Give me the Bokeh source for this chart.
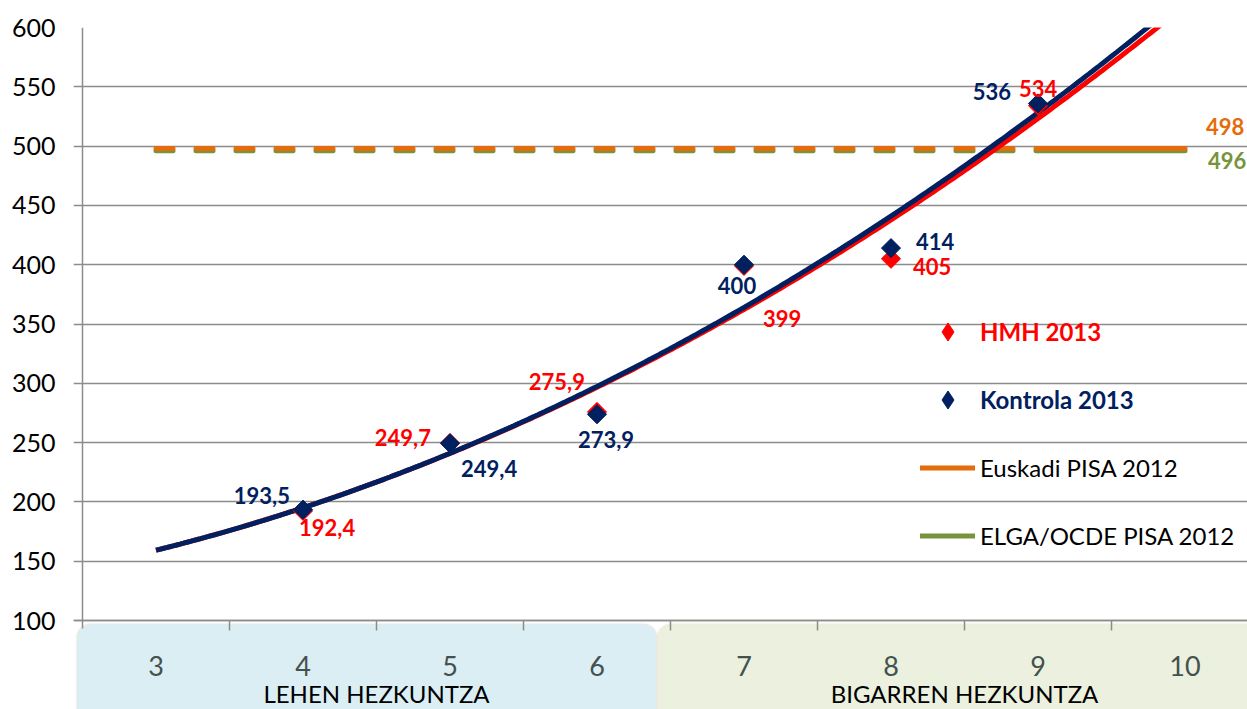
import numpy as np
from bokeh.plotting import figure
from bokeh.models import (ColumnDataSource, Range1d, FixedTicker, LinearAxis,
                          BoxAnnotation, Legend, LegendItem)
from bokeh.core.properties import value
from bokeh.embed import file_html
from bokeh.resources import INLINE

# ---------------- data ----------------
grades = [3, 4, 5, 6, 7, 8, 9, 10]
stage_names = ["LEHEN HEZKUNTZA", "BIGARREN HEZKUNTZA"]
stage_grades = [[3, 4, 5, 6], [7, 8, 9, 10]]
point_grades = [4, 5, 6, 7, 8, 9]
hmh_2013 = [192.4, 249.7, 275.9, 399, 405, 534]
kontrola_2013 = [193.5, 249.4, 273.9, 400, 414, 536]
euskadi_pisa_2012 = [498, 498, 498, 498, 498, 498, 498, 498]
elga_pisa_2012 = [496, 496, 496, 496, 496, 496, 496, 496]
y_ticks = [100, 150, 200, 250, 300, 350, 400, 450, 500, 550, 600]

# ---------------- label placement (screen px) ----------------
k_dx = [-13, 11, 9, -7, 25, -27]
k_dy = [-14, 25, 25, 21, -7, -12]
k_align = ["right", "left", "center", "center", "left", "right"]
h_dx = [-4, -19, -12, 19, 22, -19]
h_dy = [17, -5, -30, 53, 8, -17]
h_align = ["left", "right", "right", "left", "left", "left"]

NAVY = "#002060"
RED = "#FF0000"
ORANGE = "#E46C0A"
GREEN = "#77933C"
GRID = "#8C8C8C"
FONT = "Lato"
PX_PER_GRADE = 147.0


def fmt(v):
    return str(int(v)) if float(v).is_integer() else f"{v:.1f}".replace(".", ",")


x_lo = grades[0] - 0.5
p = figure(width=1247, height=709, output_backend="svg", toolbar_location=None,
           x_range=Range1d(x_lo - 9 / PX_PER_GRADE, x_lo + 1165 / PX_PER_GRADE),
           y_range=Range1d(25.0, 600),
           min_border_left=73, min_border_right=0, min_border_top=27,
           min_border_bottom=0, x_axis_location=None,
           outline_line_color=None, background_fill_color="white",
           border_fill_color="white")
p.xgrid.visible = False

# y tick labels (left panel) + grid
yt = FixedTicker(ticks=y_ticks)
p.yaxis.ticker = yt
p.ygrid.ticker = yt
p.ygrid.grid_line_color = GRID
p.ygrid.grid_line_width = 1.5
p.yaxis.axis_line_color = None
p.yaxis.major_tick_line_color = None
p.yaxis.minor_tick_line_color = None
p.yaxis.major_tick_out = 0
p.yaxis.major_tick_in = 0
p.yaxis.major_label_standoff = 18
p.yaxis.major_label_text_font = FONT
p.yaxis.major_label_text_font_size = "25px"
p.yaxis.major_label_text_color = "black"

# y axis line at the left edge of the first category
y_line_axis = LinearAxis(fixed_location=x_lo, ticker=yt,
                         bounds=(y_ticks[0] - 7, y_ticks[-1]),
                         major_label_text_font_size="0px",
                         major_label_overrides={t: "" for t in y_ticks},
                         axis_line_color=GRID, axis_line_width=1.5,
                         major_tick_line_color=None, minor_tick_line_color=None,
                         major_tick_in=0, major_tick_out=0)
p.add_layout(y_line_axis, "left")

# category bands
band_top = y_ticks[0] - 2.6
b1 = BoxAnnotation(left=stage_grades[0][0] - 0.54, right=stage_grades[0][-1] + 0.41,
                   top=band_top, bottom=0, fill_color="#DBEEF4", fill_alpha=1,
                   line_color="#FBE2D0", line_width=2, border_radius=14,
                   level="underlay")
b2 = BoxAnnotation(left=stage_grades[1][0] - 0.59, right=stage_grades[1][-1] + 1.5,
                   top=band_top, bottom=0, fill_color="#EBF1DE", fill_alpha=1,
                   line_color="#FBE2D0", line_width=2, border_radius=14,
                   level="underlay")
p.add_layout(b1)
p.add_layout(b2)

# x axis line + boundary ticks
tick_axis = LinearAxis(fixed_location=y_ticks[0],
                       ticker=FixedTicker(ticks=[g + 0.5 for g in grades[:-1]]),
                       major_label_text_font_size="0px",
                       major_label_overrides={g + 0.5: "" for g in grades[:-1]},
                       major_tick_in=0, major_tick_out=10,
                       minor_tick_line_color=None, axis_line_color=GRID,
                       axis_line_width=1.5, major_tick_line_color=GRID,
                       major_tick_line_width=1.5)
p.add_layout(tick_axis, "below")

grade_axis = LinearAxis(fixed_location=y_ticks[0], ticker=FixedTicker(ticks=grades),
                        axis_line_color=None, major_tick_line_color=None,
                        minor_tick_line_color=None, major_tick_in=0, major_tick_out=0,
                        major_label_standoff=35, major_label_text_font=FONT,
                        major_label_text_font_size="27px",
                        major_label_text_color="#44514F")
p.add_layout(grade_axis, "below")

stage_centers = [(g[0] + g[-1]) / 2 for g in stage_grades]
stage_axis = LinearAxis(fixed_location=y_ticks[0], ticker=FixedTicker(ticks=stage_centers),
                        major_label_overrides={c: n for c, n in zip(stage_centers, stage_names)},
                        axis_line_color=None, major_tick_line_color=None,
                        minor_tick_line_color=None, major_tick_in=0, major_tick_out=0,
                        major_label_standoff=58, major_label_text_font=FONT,
                        major_label_text_font_size="24px",
                        major_label_text_color="black")
p.add_layout(stage_axis, "below")

# PISA reference lines: dashed to grade 9, solid 9-10
n_dash = grades.index(9) + 1
p.line(grades[:n_dash], elga_pisa_2012[:n_dash], line_color=GREEN, line_width=5,
       line_dash="17 23", line_cap="round")
p.line(grades[:n_dash], euskadi_pisa_2012[:n_dash], line_color=ORANGE, line_width=5,
       line_dash="17 23", line_cap="round")
r_green = p.line(grades[n_dash - 1:], elga_pisa_2012[n_dash - 1:], line_color=GREEN,
                 line_width=5, line_cap="round")
r_orange = p.line(grades[n_dash - 1:], euskadi_pisa_2012[n_dash - 1:], line_color=ORANGE,
                  line_width=5, line_cap="round")

# polynomial (order 2) trendlines
xs = np.linspace(grades[0], grades[-1], 300)
coef_h = np.polyfit(point_grades, hmh_2013, 2)
coef_k = np.polyfit(point_grades, kontrola_2013, 2)
p.line(xs, np.polyval(coef_h, xs), line_color=RED, line_width=5)
p.line(xs, np.polyval(coef_k, xs), line_color=NAVY, line_width=5)

# markers
p.scatter(point_grades, hmh_2013, marker="square", size=13.5, angle=np.pi / 4,
          fill_color=RED, line_color=RED)
p.scatter(point_grades, kontrola_2013, marker="square", size=13.5,
          angle=np.pi / 4, fill_color=NAVY, line_color=NAVY)
# legend-only diamond glyphs (hidden renderers)
r_red = p.scatter(point_grades, hmh_2013, marker="diamond", size=20,
                  fill_color=RED, line_color=RED, visible=False)
r_navy = p.scatter(point_grades, kontrola_2013, marker="diamond", size=20,
                   fill_color=NAVY, line_color=NAVY, visible=False)

# data labels
hsrc = ColumnDataSource(dict(x=point_grades, y=hmh_2013, t=[fmt(v) for v in hmh_2013],
                             dx=h_dx, dy=h_dy, a=h_align))
ksrc = ColumnDataSource(dict(x=point_grades, y=kontrola_2013,
                             t=[fmt(v) for v in kontrola_2013],
                             dx=k_dx, dy=k_dy, a=k_align))
for src, col in ((hsrc, RED), (ksrc, NAVY)):
    p.text(x="x", y="y", text="t", x_offset="dx", y_offset="dy", text_align="a",
           text_baseline="middle", text_color=col, text_font=value(FONT),
           text_font_style="bold", text_font_size="22px", source=src)

# end labels of PISA lines
p.text(x=[grades[-1]], y=[euskadi_pisa_2012[-1]], text=[fmt(euskadi_pisa_2012[-1])],
       x_offset=21, y_offset=-22, text_align="left", text_baseline="middle",
       text_color=ORANGE, text_font=value(FONT), text_font_style="bold",
       text_font_size="22px")
p.text(x=[grades[-1]], y=[elga_pisa_2012[-1]], text=[fmt(elga_pisa_2012[-1])],
       x_offset=23, y_offset=10, text_align="left", text_baseline="middle",
       text_color=GREEN, text_font=value(FONT), text_font_style="bold",
       text_font_size="22px")


def add_legend(renderer, label, color, style, vy):
    lg = Legend(items=[LegendItem(label=value(label), renderers=[renderer])],
                location=(847, vy), padding=0, margin=0, spacing=0,
                glyph_width=55, glyph_height=45, label_standoff=5,
                label_text_color=color, label_text_font=FONT,
                label_text_font_style=style, label_text_font_size="24px",
                border_line_color=None, background_fill_alpha=0,
                inactive_fill_alpha=0)
    p.add_layout(lg, "center")


add_legend(r_red, "HMH 2013", RED, "bold", 355)
add_legend(r_navy, "Kontrola 2013", NAVY, "bold", 287)
add_legend(r_orange, "Euskadi PISA 2012", "black", "normal", 219)
add_legend(r_green, "ELGA/OCDE PISA 2012", "black", "normal", 151)

open("out.html", "w").write(file_html(p, INLINE))
